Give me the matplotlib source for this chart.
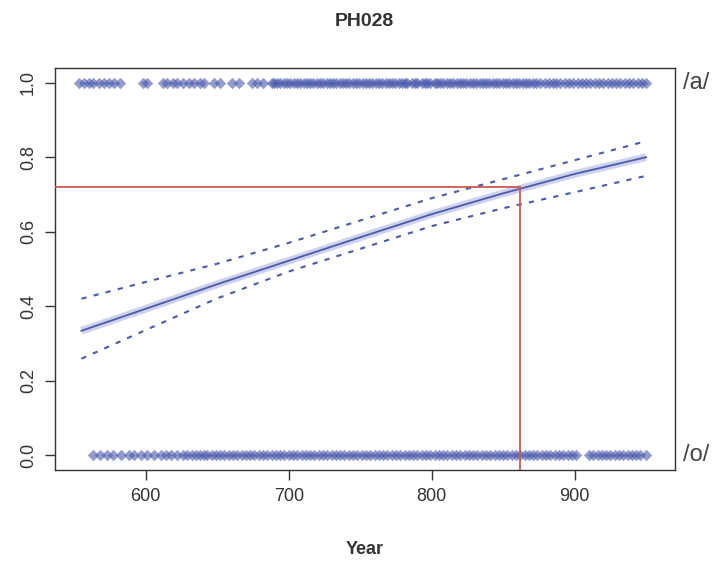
import numpy as np
import matplotlib
matplotlib.use("Agg")
import matplotlib.pyplot as plt

plt.rcParams['font.family'] = ['Liberation Sans', 'DejaVu Sans']

# observed tokens: /a/ coded 1, /o/ coded 0
years_a = [553, 557, 560, 563, 567, 571, 574, 578, 582, 598, 601,
           612, 615, 619, 622, 626, 630, 634, 638, 641, 648, 652,
           660, 665, 674, 678, 682,
           688, 690, 692, 694, 697, 699, 701, 704, 706, 708, 711, 713,
           715, 717, 720, 722, 724, 727, 729, 731, 733, 736, 738, 740,
           742, 745, 747, 749, 752, 754, 756, 758, 761, 763, 765, 768,
           770, 772, 774, 777, 779, 781, 783, 786, 788, 790, 793, 795,
           797, 799, 802, 804, 806, 808, 811, 813, 815, 818, 820, 822,
           824, 827, 829, 831, 834, 836, 838, 840, 843, 845, 847, 850,
           852, 854, 857, 859, 861, 864, 866, 868, 871, 873, 876, 879,
           882, 885, 887, 890, 893, 896, 899, 902, 905, 908, 911, 914,
           917, 920, 923, 926, 929, 932, 935, 938, 941, 944, 947, 950]
years_o = [563, 568, 573, 577, 583, 588, 592, 597, 601, 606, 611, 614,
           618, 622, 626, 629, 632, 635, 638, 641, 643, 646, 649, 652,
           655, 658, 661, 664, 667, 670, 673, 676, 679, 682, 685, 688,
           691, 694, 697, 700, 703, 706, 709, 712, 715, 718, 721, 724,
           727, 730, 733, 736, 739, 742, 745, 748, 751, 754, 757, 760,
           763, 766, 769, 772, 775, 778, 781, 784, 787, 790, 793, 796,
           799, 802, 805, 808, 811, 814, 817, 820, 823, 826, 829, 832,
           835, 838, 841, 844, 847, 850, 853, 856, 859, 862, 865, 868,
           871, 874, 877, 880, 883, 886, 889, 892, 895, 898, 901,
           910, 913, 916, 919, 922, 925, 928, 931, 934, 937, 940, 943,
           946, 950]

# fitted probability and confidence band
fit_x = [555, 600, 650, 700, 750, 800, 850, 900, 950]
fit_y = [0.334, 0.393, 0.459, 0.522, 0.585, 0.647, 0.703, 0.755, 0.800]
upper_y = [0.420, 0.465, 0.514, 0.570, 0.630, 0.690, 0.741, 0.792, 0.843]
lower_y = [0.259, 0.336, 0.421, 0.493, 0.554, 0.615, 0.663, 0.706, 0.750]

cross_x = 862
cross_y = 0.72

blue = '#4a5aac'
red = '#d0574e'

fig = plt.figure(figsize=(7.14, 5.65), dpi=100)
ax = fig.add_axes([0.077, 0.168, 0.868, 0.712])

ax.scatter(years_a, np.ones(len(years_a)), s=34, marker='D', color=blue,
           alpha=0.6, linewidths=0, zorder=3)
ax.scatter(years_o, np.zeros(len(years_o)), s=34, marker='D', color=blue,
           alpha=0.6, linewidths=0, zorder=3)

ax.plot(fit_x, fit_y, color='#c3c7e8', lw=5.5, alpha=0.8, solid_capstyle='butt', zorder=2)
ax.plot(fit_x, fit_y, color=blue, lw=1.3, zorder=3)
ax.plot(fit_x, upper_y, color=blue, lw=1.5, ls=(0, (2.5, 3.5)), zorder=3)
ax.plot(fit_x, lower_y, color=blue, lw=1.5, ls=(0, (2.5, 3.5)), zorder=3)

ax.set_xlim(536.5, 970)
ax.set_ylim(-0.04, 1.04)
ax.plot([536.5, cross_x], [cross_y, cross_y], color=red, lw=1.3, zorder=4)
ax.plot([cross_x, cross_x], [-0.04, cross_y], color=red, lw=1.3, zorder=4)

ax.set_xticks([600, 700, 800, 900])
ax.set_yticks([0.0, 0.2, 0.4, 0.6, 0.8, 1.0])
ax.set_yticklabels(['0.0', '0.2', '0.4', '0.6', '0.8', '1.0'], rotation=90, va='center')
ax.tick_params(direction='out', length=7, width=1, colors='#333333', labelsize=13, pad=6)
for sp in ax.spines.values():
    sp.set_color('#333333')
    sp.set_linewidth(1)

ax.set_title('PH028', fontsize=14, fontweight='bold', color='#333333', pad=30)
ax.set_xlabel('Year', fontsize=13, fontweight='bold', color='#333333', labelpad=26)

ax.text(1.013, 1.0, '/a/', transform=ax.get_yaxis_transform(), fontsize=17,
        color='#444444', va='center', ha='left')
ax.text(1.013, 0.0, '/o/', transform=ax.get_yaxis_transform(), fontsize=17,
        color='#444444', va='center', ha='left')

fig.savefig('out.png', dpi=100)
